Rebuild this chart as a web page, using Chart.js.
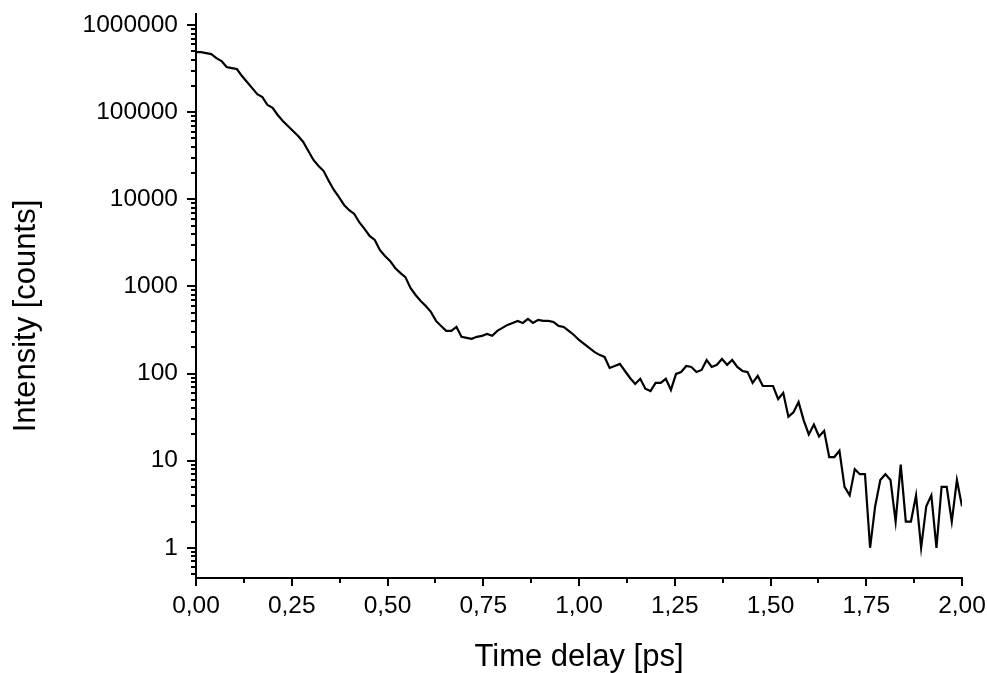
<!DOCTYPE html>
<html>
<head>
<meta charset="utf-8">
<script src="https://cdn.jsdelivr.net/npm/chart.js@4/dist/chart.umd.min.js"></script>
<style>
    html, body { margin: 0; padding: 0; background: #fff; }
    #wrap { width: 987px; height: 673px; position: relative; }
</style>
</head>
<body>
<div id="wrap"><canvas id="decayChart"></canvas></div>
<script>
// Intensity in counts, one sample every 2/150 ps from 0 to 2 ps
const counts = [
    490000, 490000, 477000, 465000, 418000, 386000, 330000, 321000, 313000, 260000,
    222000, 189000, 161000, 149000, 121000, 112000, 92900, 79200, 69400, 60800,
    53300, 45500, 35800, 28300, 24100, 21100, 16200, 12800, 10600, 8600,
    7500, 6790, 5420, 4570, 3800, 3420, 2620, 2240, 1960, 1630,
    1430, 1280, 961, 798, 682, 597, 510, 402, 352, 309,
    309, 343, 264, 257, 250, 264, 271, 285, 271, 309,
    334, 362, 381, 402, 381, 424, 381, 413, 402, 402,
    391, 352, 343, 309, 277, 243, 219, 197, 177, 164,
    155, 116, 122, 129, 107, 89, 76, 87, 67, 63,
    78, 78, 87, 65, 99, 104, 122, 119, 104, 110,
    143, 119, 126, 147, 126, 143, 119, 107, 104, 78,
    94, 72, 72, 72, 51, 60, 32, 36, 47, 29,
    20, 26, 19, 22, 11, 11, 13, 5, 4, 8,
    7, 7, 1, 3, 6, 7, 6, 2, 9, 2,
    2, 4, 1, 3, 4, 1, 5, 5, 2, 6,
    3
];
const sampleStep = 2 / 150;
const timeDelay = counts.map((_, i) => +(i * sampleStep).toFixed(4));

const xTickValues = [0, 0.25, 0.5, 0.75, 1, 1.25, 1.5, 1.75, 2];
const xMinorValues = [0.125, 0.375, 0.625, 0.875, 1.125, 1.375, 1.625, 1.875];
const yTickValues = [1, 10, 100, 1000, 10000, 100000, 1000000];
const yTitle = "Intensity [counts]";

const FONT = "'Liberation Sans', Arial, sans-serif";

// minor ticks (log subdivisions on y, half steps on x)
const minorTicks = {
    id: "minorTicks",
    afterDraw(chart) {
        const ctx = chart.ctx;
        const xs = chart.scales.x;
        const ys = chart.scales.y;
        ctx.save();
        ctx.strokeStyle = "#000";
        ctx.lineWidth = 2;
        ctx.beginPath();
        for (let n = -1; n <= 6; n++) {
            for (let m = 2; m <= 9; m++) {
                const v = m * Math.pow(10, n);
                if (v < ys.min || v > ys.max) continue;
                const py = Math.round(ys.getPixelForValue(v));
                ctx.moveTo(ys.right, py);
                ctx.lineTo(ys.right - 5, py);
            }
        }
        xMinorValues.forEach((v) => {
            const px = Math.round(xs.getPixelForValue(v));
            ctx.moveTo(px, xs.top);
            ctx.lineTo(px, xs.top + 5);
        });
        ctx.stroke();

        // y title sits a bit below the axis middle in the original
        const area = chart.chartArea;
        ctx.translate(ys.left + 26, (area.top + area.bottom) / 2 + 20);
        ctx.rotate(-Math.PI / 2);
        ctx.fillStyle = "#000";
        ctx.font = "31px " + FONT;
        ctx.textAlign = "center";
        ctx.textBaseline = "middle";
        ctx.fillText(yTitle, 0, 0);
        ctx.restore();
    },
};

new Chart(document.getElementById("decayChart"), {
    type: "line",
    data: {
        datasets: [{
            data: timeDelay.map((t, i) => ({ x: t, y: counts[i] })),
            borderColor: "#000",
            borderWidth: 2.2,
            pointRadius: 0,
            tension: 0,
            fill: false,
        }, ],
    },
    options: {
        responsive: true,
        maintainAspectRatio: false,
        animation: false,
        layout: {
            padding: { top: 14, right: 25, bottom: 0, left: 0 },
        },
        plugins: {
            legend: { display: false },
            tooltip: { enabled: false },
        },
        scales: {
            x: {
                type: "linear",
                min: 0,
                max: 2,
                afterBuildTicks: (scale) => {
                    scale.ticks = xTickValues.map((v) => ({ value: v }));
                },
                afterFit: (scale) => {
                    scale.height = 95;
                    scale.paddingLeft = 0;
                    scale.paddingRight = 0;
                },
                grid: {
                    drawOnChartArea: false,
                    drawTicks: true,
                    tickLength: 8,
                    color: "#000",
                    lineWidth: 2,
                },
                border: { display: true, color: "#000", width: 2 },
                ticks: {
                    color: "#000",
                    font: { family: FONT, size: 24.5 },
                    padding: 6,
                    maxRotation: 0,
                    callback: (v) => Number(v).toFixed(2).replace(".", ","),
                },
                title: {
                    display: true,
                    text: "Time delay [ps]",
                    color: "#000",
                    font: { family: FONT, size: 31 },
                    padding: { top: 0, bottom: -3 },
                },
            },
            y: {
                type: "logarithmic",
                min: 0.45,
                max: 1340000,
                afterBuildTicks: (scale) => {
                    scale.ticks = yTickValues.map((v) => ({ value: v }));
                },
                afterFit: (scale) => {
                    scale.width = 196;
                    scale.paddingTop = 0;
                    scale.paddingBottom = 0;
                },
                grid: {
                    drawOnChartArea: false,
                    drawTicks: true,
                    tickLength: 9,
                    color: "#000",
                    lineWidth: 2,
                },
                border: { display: true, color: "#000", width: 2 },
                ticks: {
                    color: "#000",
                    font: { family: FONT, size: 24.5 },
                    padding: 9,
                    callback: (v) => String(v),
                },
                title: { display: false },
            },
        },
    },
    plugins: [minorTicks],
});
</script>
</body>
</html>
